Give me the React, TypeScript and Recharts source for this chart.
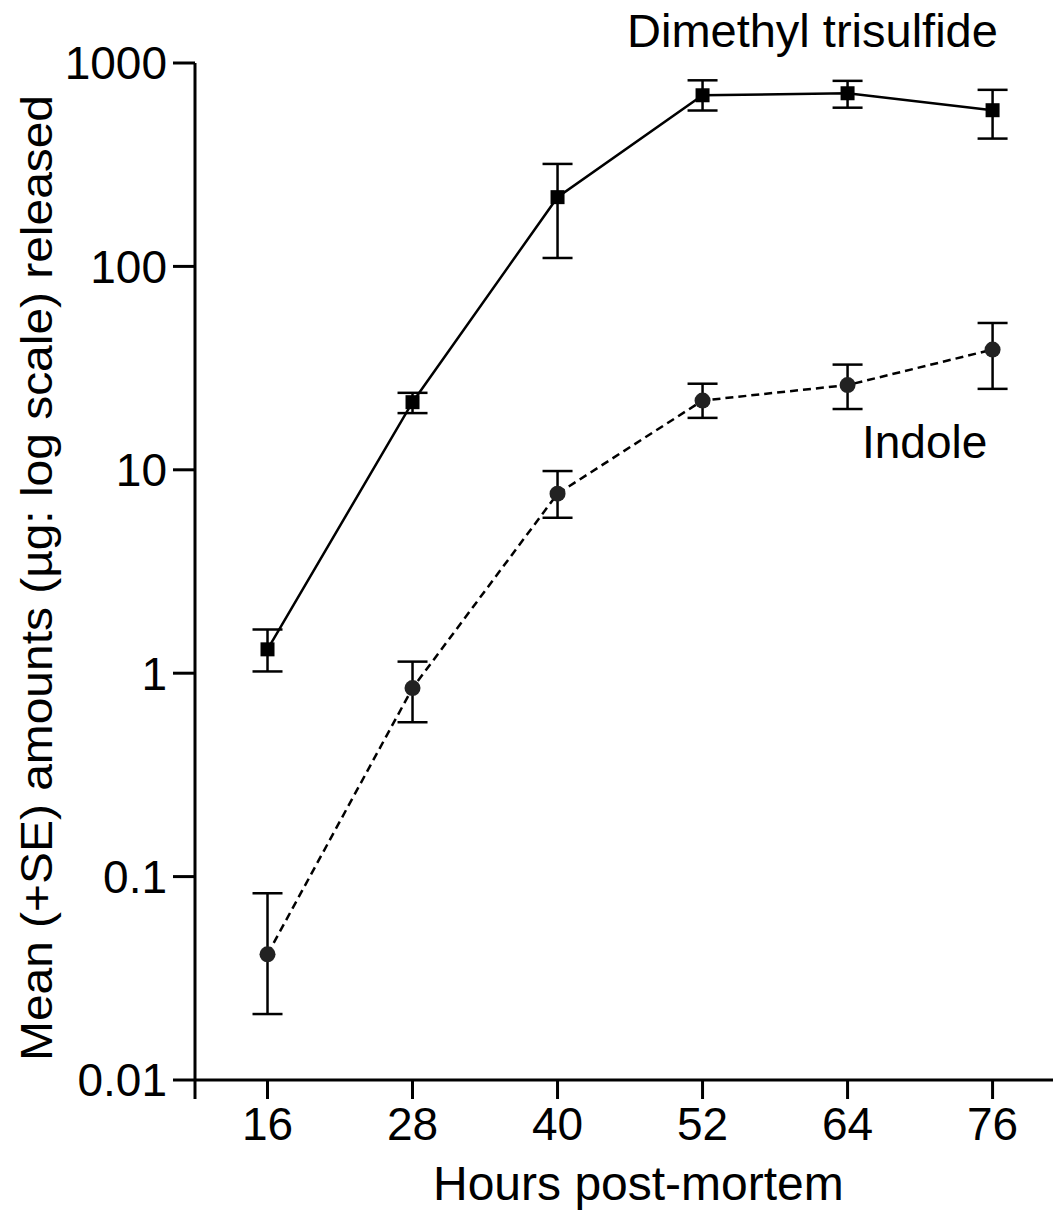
import React from "react";
import { ComposedChart, Line, XAxis, YAxis, ErrorBar, Customized } from "recharts";

// Stunden post mortem
const hours = [16, 28, 40, 52, 64, 76];

// Dimethyltrisulfid: Mittelwert, untere und obere Fehlergrenze (µg)
const dmtsMean = [1.31, 21.5, 219, 694, 710, 586];
const dmtsLow = [1.02, 19.0, 110, 584, 603, 425];
const dmtsHigh = [1.64, 23.9, 319, 822, 817, 738];

// Indol
const indMean = [0.0415, 0.845, 7.63, 21.9, 26.1, 39.0];
const indLow = [0.0211, 0.574, 5.81, 18.0, 19.9, 25.0];
const indHigh = [0.0828, 1.14, 9.86, 26.5, 32.9, 52.7];

const xTicks = [10, 16, 28, 40, 52, 64, 76];
const yTicks = [0.01, 0.1, 1, 10, 100, 1000];

const data = hours.map((h, i) => ({
  h,
  dmts: dmtsMean[i],
  dmtsErr: [dmtsMean[i] - dmtsLow[i], dmtsHigh[i] - dmtsMean[i]],
  ind: indMean[i],
  indErr: [indMean[i] - indLow[i], indHigh[i] - indMean[i]],
}));

const FONT = "'Liberation Sans', Arial, sans-serif";

const Square = (p: any) => (
  <rect x={p.cx - 7} y={p.cy - 7} width={14} height={14} fill="#000" />
);
const Dot = (p: any) => <circle cx={p.cx} cy={p.cy} r={8} fill="#222" />;

const Texts = () => (
  <g fontFamily={FONT} fill="#000">
    <text x={627} y={47} fontSize={47}>Dimethyl trisulfide</text>
    <text x={862} y={458} fontSize={46}>Indole</text>
    <text x={433} y={1200} fontSize={48}>Hours post-mortem</text>
    <text
      transform="translate(52,578) rotate(-90)"
      textAnchor="middle"
      fontSize={45}
      textLength={966}
      lengthAdjust="spacingAndGlyphs"
    >
      Mean (+SE) amounts (µg: log scale) released
    </text>
  </g>
);

export default function App() {
  return (
    <div style={{ position: "absolute", left: 0, top: 0, background: "#fff" }}>
      <ComposedChart width={1055} height={1211} data={data} margin={{ top: 63, right: 2, bottom: 0, left: 0 }}>
        <XAxis
          dataKey="h"
          type="number"
          domain={[10, 81]}
          ticks={xTicks}
          tickFormatter={(v: number) => (v === 10 ? "" : String(v))}
          height={131}
          tickSize={19}
          tickMargin={8}
          stroke="#000"
          strokeWidth={3}
          tick={{ fill: "#000", fontSize: 46, fontFamily: FONT }}
          allowDataOverflow
        />
        <YAxis
          scale="log"
          domain={[0.01, 1000]}
          ticks={yTicks}
          tickFormatter={(v: number) => String(v)}
          width={195}
          tickSize={22}
          tickMargin={6}
          stroke="#000"
          strokeWidth={3}
          tick={{ fill: "#000", fontSize: 46, fontFamily: FONT }}
          allowDataOverflow
        />
        <Line
          dataKey="dmts"
          stroke="#000"
          strokeWidth={2.5}
          dot={<Square />}
          activeDot={false}
          isAnimationActive={false}
        >
          <ErrorBar dataKey="dmtsErr" direction="y" width={15} stroke="#000" strokeWidth={2.5} />
        </Line>
        <Line
          dataKey="ind"
          stroke="#000"
          strokeWidth={2.5}
          strokeDasharray="8 5"
          dot={<Dot />}
          activeDot={false}
          isAnimationActive={false}
        >
          <ErrorBar dataKey="indErr" direction="y" width={15} stroke="#000" strokeWidth={2.5} />
        </Line>
        <Customized component={Texts} />
      </ComposedChart>
    </div>
  );
}
